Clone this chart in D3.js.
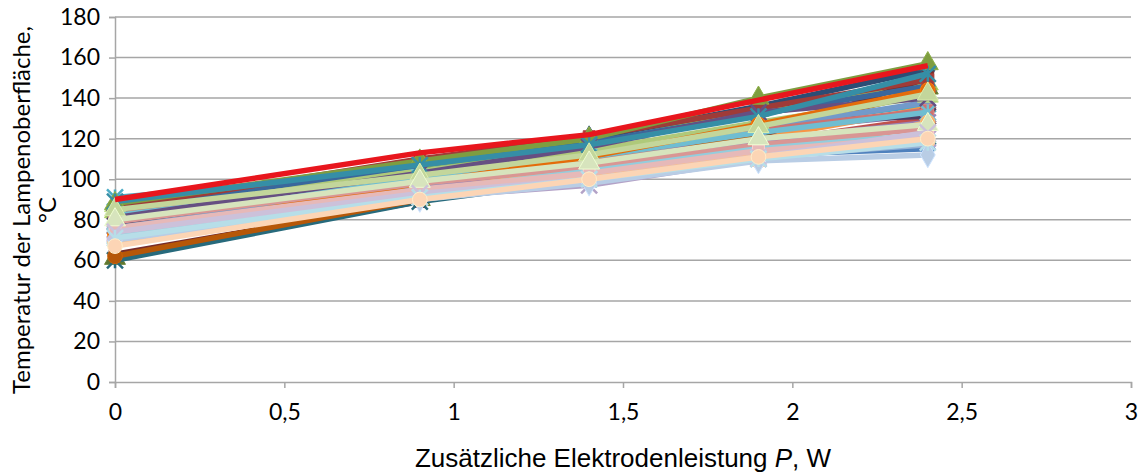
<!DOCTYPE html>
<html>
<head>
<meta charset="utf-8">
<script src="https://cdn.jsdelivr.net/npm/d3@7"></script>
<style>
  body { margin: 0; background: #fff; }
  svg text { fill: #000; }
</style>
</head>
<body>
<svg id="chart" width="1144" height="472"></svg>
<script>
// x positions of the measurements (W)
const power = [0, 0.9, 1.4, 1.9, 2.4];

// surface temperature per lamp, °C
const seriesValues = [
  [78, 95, 103, 112, 115],
  [80, 98, 106, 118, 130],
  [84, 106, 117, 134, 147],
  [79, 97, 108, 124, 132],
  [91, 104, 113, 126, 137],
  [74, 96, 107, 120, 135],
  [86, 108, 120, 136, 154],
  [63, 89, 105, 121, 150],
  [61, 90, 104, 122, 145],
  [77, 96, 110, 128, 131],
  [60, 89, 100, 112, 121],
  [62, 90, 104, 123, 143],
  [76, 97, 109, 125, 138],
  [83, 100, 110, 124, 134],
  [87, 104, 114, 128, 141],
  [75, 95, 106, 119, 128],
  [82, 101, 111, 123, 133],
  [72, 94, 105, 109, 128],
  [85, 107, 118, 132, 146],
  [86, 110, 121, 135, 149],
  [88, 109, 120, 140, 157],
  [81, 103, 116, 133, 140],
  [89, 107, 117, 131, 152],
  [73, 98, 111, 127, 144],
  [71, 92, 101, 111, 117],
  [79, 98, 106, 117, 125],
  [85, 102, 112, 126, 142],
  [73, 91, 97, 110, 120],
  [72, 94, 104, 115, 122],
  [69, 92, 102, 112, 119],
  [70, 90, 98, 109, 112],
  [76, 95, 103, 114, 121],
  [80, 99, 108, 120, 127],
  [74, 93, 100, 111, 123],
  [71, 91, 100, 110, 118],
  [67, 90, 100, 111, 120],
  [90, 113, 122, 139, 156]
];

const seriesColors = [
  "#4F81BD", "#C0504D", "#9BBB59", "#8064A2", "#4BACC6", "#F79646",
  "#2C4D75", "#772C2A", "#5F7530", "#4D3B62", "#276A7C", "#B65708",
  "#729ACA", "#CD7371", "#AFC97A", "#9983B5", "#6FBDD1", "#F9AB6B",
  "#3A679C", "#9F3B38", "#7E9D40", "#664F82", "#358EA6", "#E46C0A",
  "#95B3D7", "#D99694", "#C3D69B", "#B3A2C7", "#93CDDD", "#FAC090",
  "#B9CDE5", "#E6B9B8", "#D7E4BD", "#CCC1DA", "#B7DEE8", "#FCD5B5",
  "#E8161D"
];

const markerCycle = ["diamond", "square", "triangle", "x", "star", "circle"];

const xTicks = [0, 0.5, 1, 1.5, 2, 2.5, 3];
const yTicks = [0, 20, 40, 60, 80, 100, 120, 140, 160, 180];

const margin = {top: 17, right: 13, bottom: 90, left: 115};
const width = 1144, height = 472;

const svg = d3.select("#chart");
const xScale = d3.scaleLinear().domain([0, 3]).range([margin.left, width - margin.right]);
const yScale = d3.scaleLinear().domain([0, 180]).range([height - margin.bottom, margin.top]);

const gridColor = "#A6A6A6";
const fmt = d => String(d).replace(".", ",");
const calibriLike = "Lato, 'Open Sans', sans-serif";
const arialLike = "'Liberation Sans', Arial, sans-serif";

// horizontal gridlines
svg.append("g")
  .selectAll("line")
  .data(yTicks.filter(d => d > 0))
  .enter()
  .append("line")
  .attr("x1", xScale(0))
  .attr("x2", xScale(3))
  .attr("y1", d => yScale(d))
  .attr("y2", d => yScale(d))
  .attr("stroke", gridColor)
  .attr("stroke-width", 1.5);

// axes
const xAxis = svg.append("g")
  .attr("transform", `translate(0,${yScale(0)})`)
  .call(d3.axisBottom(xScale).tickValues(xTicks).tickFormat(fmt).tickSize(6).tickPadding(16));
const yAxis = svg.append("g")
  .attr("transform", `translate(${xScale(0)},0)`)
  .call(d3.axisLeft(yScale).tickValues(yTicks).tickSize(6).tickPadding(9));

[xAxis, yAxis].forEach(ax => {
  ax.select(".domain").attr("stroke", gridColor).attr("stroke-width", 1.5);
  ax.selectAll(".tick line").attr("stroke", gridColor).attr("stroke-width", 1.5);
  ax.selectAll(".tick text")
    .style("font-family", calibriLike)
    .style("font-size", "23px")
    .attr("fill", "#000");
});
xAxis.selectAll(".tick text").attr("dy", "0.71em");

// series
const line = d3.line()
  .x((d, i) => xScale(power[i]))
  .y(d => yScale(d));

const symbolFor = {
  diamond: d3.symbol().type(d3.symbolDiamond).size(190),
  square: d3.symbol().type(d3.symbolSquare).size(140),
  triangle: d3.symbol().type(d3.symbolTriangle).size(190),
  circle: d3.symbol().type(d3.symbolCircle).size(170)
};

function drawMarker(g, type, color, cx, cy) {
  const m = g.append("g").attr("transform", `translate(${cx},${cy})`);
  if (type === "x" || type === "star") {
    const r = 8;
    m.append("path")
      .attr("d", `M${-r},${-r}L${r},${r}M${-r},${r}L${r},${-r}` + (type === "star" ? `M0,${-r}L0,${r}` : ""))
      .attr("stroke", color)
      .attr("stroke-width", 2.5);
  } else {
    m.append("path")
      .attr("d", symbolFor[type]())
      .attr("fill", color)
      .attr("stroke", d3.color(color).brighter(0.3))
      .attr("stroke-width", 1);
  }
}

seriesValues.forEach((values, s) => {
  const color = seriesColors[s];
  const g = svg.append("g").attr("class", "series");
  g.append("path")
    .attr("d", line(values))
    .attr("fill", "none")
    .attr("stroke", color)
    .attr("stroke-width", 5.5)
    .attr("stroke-linejoin", "round");
  if (s < seriesValues.length - 1) {
    const type = markerCycle[s % markerCycle.length];
    values.forEach((v, i) => drawMarker(g, type, color, xScale(power[i]), yScale(v)));
  }
});

// axis titles
const xTitle = svg.append("text")
  .attr("x", (xScale(0) + xScale(3)) / 2)
  .attr("y", 467)
  .attr("text-anchor", "middle")
  .style("font-family", arialLike)
  .style("font-size", "26px");
xTitle.append("tspan").text("Zusätzliche Elektrodenleistung ");
xTitle.append("tspan").style("font-style", "italic").text("P");
xTitle.append("tspan").text(", W");

const yTitle = svg.append("text")
  .attr("transform", `translate(0,${210}) rotate(-90)`)
  .attr("text-anchor", "middle")
  .style("font-family", calibriLike)
  .style("font-size", "24px");
yTitle.append("tspan").attr("x", 0).attr("y", 30).text("Temperatur der Lampenoberfläche,");
yTitle.append("tspan").attr("x", 0).attr("y", 56).text("°C");
</script>
</body>
</html>
